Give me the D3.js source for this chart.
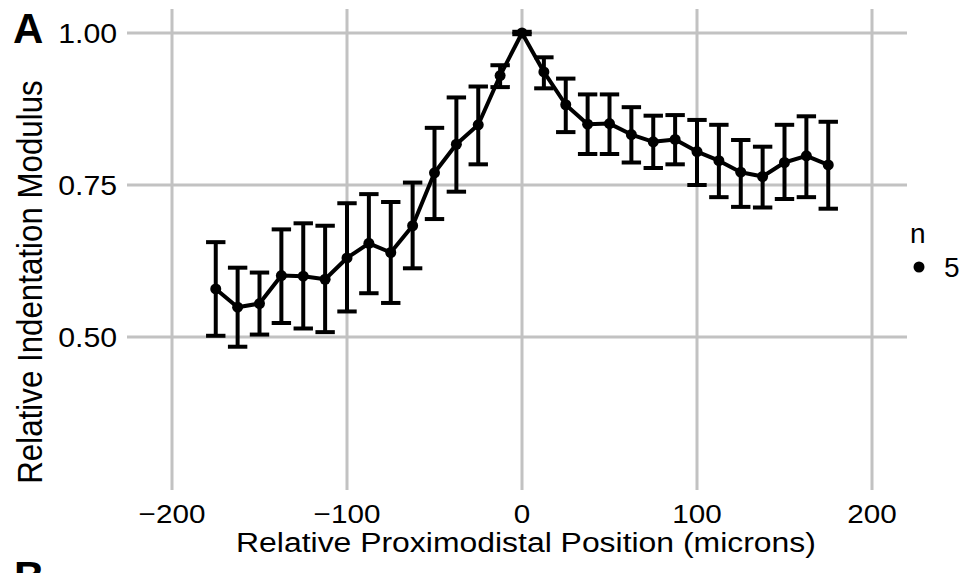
<!DOCTYPE html>
<html>
<head>
<meta charset="utf-8">
<script src="https://cdn.jsdelivr.net/npm/d3@7"></script>
<style>
  body { margin: 0; background: #fff; }
  text { font-family: "Liberation Sans", Arial, Helvetica, sans-serif; fill: #000; }
</style>
</head>
<body>
<script>
// relative position along the proximodistal axis (microns)
var positions = [-175, -162.5, -150, -137.5, -125, -112.5, -100, -87.5, -75, -62.5, -50, -37.5, -25, -12.5,
                 0, 12.5, 25, 37.5, 50, 62.5, 75, 87.5, 100, 112.5, 125, 137.5, 150, 162.5, 175];
var means = [0.579, 0.549, 0.555, 0.601, 0.600, 0.595, 0.630, 0.654, 0.639, 0.683, 0.770, 0.817, 0.849, 0.930,
             1.000, 0.936, 0.882, 0.850, 0.851, 0.833, 0.821, 0.825, 0.805, 0.790, 0.771, 0.764, 0.787, 0.798, 0.783];
var upper = [0.656, 0.614, 0.606, 0.677, 0.687, 0.683, 0.720, 0.735, 0.722, 0.754, 0.844, 0.894, 0.912, 0.947,
             1.002, 0.960, 0.925, 0.899, 0.899, 0.878, 0.864, 0.865, 0.857, 0.849, 0.824, 0.813, 0.849, 0.863, 0.854];
var lower = [0.502, 0.484, 0.504, 0.523, 0.514, 0.508, 0.542, 0.572, 0.556, 0.613, 0.694, 0.739, 0.784, 0.911,
             0.998, 0.909, 0.837, 0.801, 0.801, 0.787, 0.778, 0.784, 0.750, 0.730, 0.714, 0.713, 0.727, 0.730, 0.711];
var xTicks = [-200, -100, 0, 100, 200];
var yTicks = [0.50, 0.75, 1.00];
var legendValues = [5];

var width = 970,
    height = 573;

var svg = d3.select("body")
    .append("svg")
    .attr("width", width)
    .attr("height", height);

var x = d3.scaleLinear().domain([-200, 200]).range([172, 872]);
var y = d3.scaleLinear().domain([0.5, 1.0]).range([337, 33]);

var gridLeft = 127, gridRight = 907, gridTop = 9, gridBottom = 490;
var grey = "#c2c2c2";

// grid lines (they run out past the panel like ticks)
svg.append("g")
    .selectAll("line")
    .data(yTicks)
    .enter()
    .append("line")
    .attr("x1", gridLeft)
    .attr("x2", gridRight)
    .attr("y1", d => y(d))
    .attr("y2", d => y(d))
    .attr("stroke", grey)
    .attr("stroke-width", 3);

svg.append("g")
    .selectAll("line")
    .data(xTicks)
    .enter()
    .append("line")
    .attr("x1", d => x(d))
    .attr("x2", d => x(d))
    .attr("y1", gridTop)
    .attr("y2", gridBottom)
    .attr("stroke", grey)
    .attr("stroke-width", 3);

// tick labels (the original figure is a little wider than tall, hence the x stretch)
svg.append("g")
    .selectAll("text")
    .data(yTicks)
    .enter()
    .append("text")
    .attr("transform", d => "translate(117," + y(d) + ") scale(1.08,1)")
    .attr("dy", "0.36em")
    .attr("text-anchor", "end")
    .style("font-size", "28px")
    .text(d => d3.format(".2f")(d));

svg.append("g")
    .selectAll("text")
    .data(xTicks)
    .enter()
    .append("text")
    .attr("transform", d => "translate(" + x(d) + ",523) scale(1.12,1)")
    .attr("text-anchor", "middle")
    .style("font-size", "26.5px")
    .text(d => d3.format("")(d).replace("-", "\u2212"));

// axis titles
svg.append("text")
    .attr("transform", "translate(526,552) scale(1.14,1)")
    .attr("text-anchor", "middle")
    .style("font-size", "28px")
    .text("Relative Proximodistal Position (microns)");

svg.append("text")
    .attr("transform", "translate(42,282) scale(1.14,1) rotate(-90)")
    .attr("text-anchor", "middle")
    .style("font-size", "31.3px")
    .text("Relative Indentation Modulus");

// panel tags
svg.append("text")
    .attr("x", 13)
    .attr("y", 43)
    .style("font-size", "42px")
    .style("font-weight", "bold")
    .text("A");

svg.append("text")
    .attr("x", 14)
    .attr("y", 591)
    .style("font-size", "42px")
    .style("font-weight", "bold")
    .text("B");

var pts = positions.map((p, i) => ({x: p, m: means[i], lo: lower[i], hi: upper[i]}));

var data = svg.append("g").attr("id", "series");

// error bars
var bars = data.selectAll("g.err")
    .data(pts)
    .enter()
    .append("g")
    .attr("class", "err")
    .attr("stroke", "#000")
    .attr("stroke-width", 4);

bars.append("line")
    .attr("x1", d => x(d.x)).attr("x2", d => x(d.x))
    .attr("y1", d => y(d.lo)).attr("y2", d => y(d.hi));
bars.append("line")
    .attr("x1", d => x(d.x) - 9.7).attr("x2", d => x(d.x) + 9.7)
    .attr("y1", d => y(d.hi)).attr("y2", d => y(d.hi));
bars.append("line")
    .attr("x1", d => x(d.x) - 9.7).attr("x2", d => x(d.x) + 9.7)
    .attr("y1", d => y(d.lo)).attr("y2", d => y(d.lo));

// mean line
var line = d3.line()
    .x(d => x(d.x))
    .y(d => y(d.m));

data.append("path")
    .datum(pts)
    .attr("d", line)
    .attr("fill", "none")
    .attr("stroke", "#000")
    .attr("stroke-width", 4)
    .attr("stroke-linejoin", "round");

data.selectAll("circle")
    .data(pts)
    .enter()
    .append("circle")
    .attr("cx", d => x(d.x))
    .attr("cy", d => y(d.m))
    .attr("r", 5.5)
    .attr("fill", "#000");

// legend
var legend = svg.append("g").attr("id", "legend");
legend.append("text")
    .attr("x", 910)
    .attr("y", 243)
    .style("font-size", "28px")
    .text("n");

var items = legend.selectAll("g.item")
    .data(legendValues)
    .enter()
    .append("g")
    .attr("class", "item");
items.append("circle")
    .attr("cx", 919)
    .attr("cy", 267)
    .attr("r", 5.5)
    .attr("fill", "#000");
items.append("text")
    .attr("x", 944)
    .attr("y", 277)
    .style("font-size", "28px")
    .text(d => d);
</script>
</body>
</html>
